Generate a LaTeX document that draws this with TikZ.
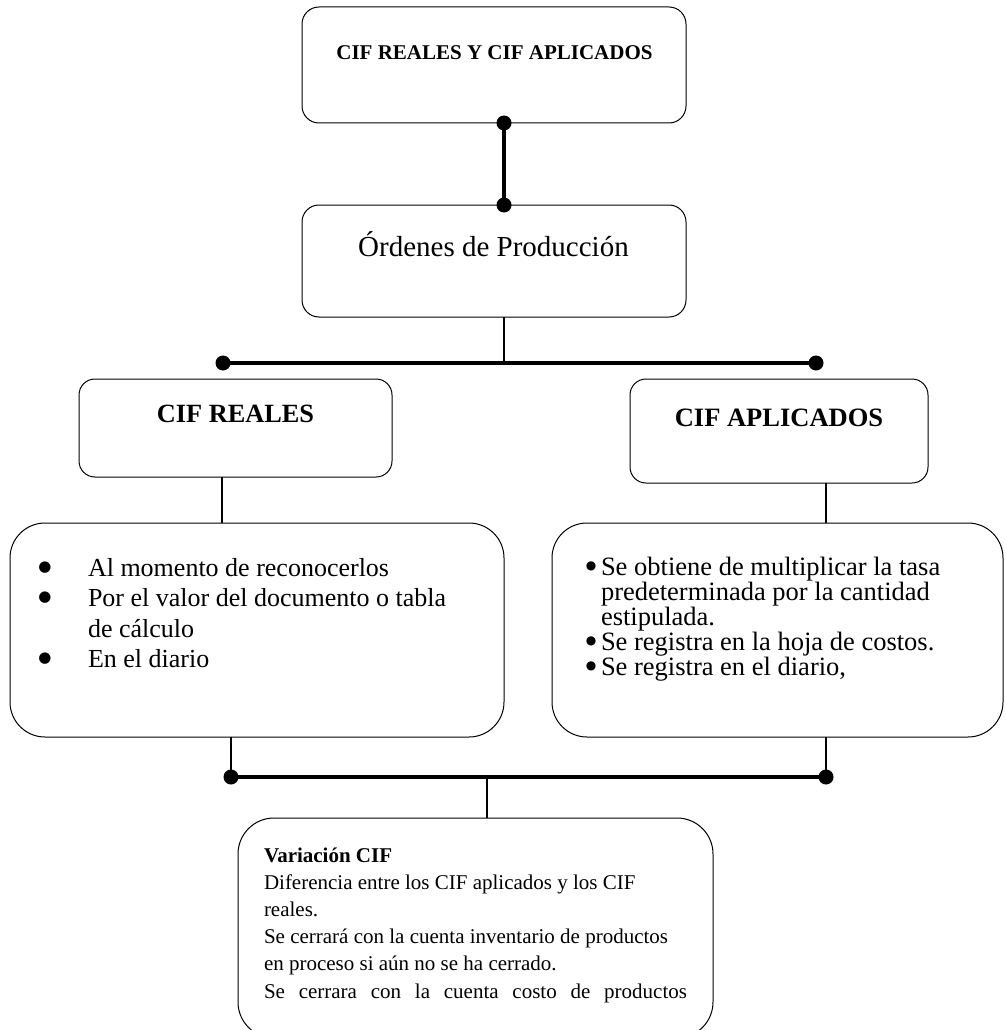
\documentclass[tikz,border=0pt]{standalone}
\usepackage{fontspec}
\setmainfont{Liberation Serif}
\newfontfamily\dejavu{DejaVu Sans}
\begin{document}
\begin{tikzpicture}[x=1pt,y=-1pt,
  box/.style={draw, line width=1pt, inner sep=0pt, outer sep=0pt},
  thickline/.style={line width=3.2pt},
  thinline/.style={line width=1.3pt},
  txt/.style={inner sep=0pt, outer sep=0pt},
  bulL/.style={txt, anchor=base, font=\dejavu\fontsize{15}{15}\selectfont},
  bulR/.style={txt, anchor=base, font=\dejavu\fontsize{12}{12}\selectfont}]
\fill[white] (0,0) rectangle (1005,1030);
\useasboundingbox (0,0) rectangle (1005,1030);

% boxes
\node[box, rounded corners=17pt, minimum width=384pt, minimum height=116pt] (top) at (494,65) {};
\node[box, rounded corners=17pt, minimum width=384pt, minimum height=112pt] (ord) at (494,261) {};
\node[box, rounded corners=16pt, minimum width=313pt, minimum height=98pt] (reales) at (235.5,428) {};
\node[box, rounded corners=16pt, minimum width=298pt, minimum height=104pt] (aplic) at (779,431) {};
\node[box, rounded corners=35pt, minimum width=494pt, minimum height=214pt] (leftlist) at (257,630) {};
\node[box, rounded corners=35pt, minimum width=451pt, minimum height=214pt] (rightlist) at (777.5,630) {};
\node[box, rounded corners=36pt, minimum width=475pt, minimum height=220pt] (bottom) at (475.5,928) {};

% connector coordinates
\coordinate (xa) at (504,0);
\coordinate (hl) at (223,363);
\coordinate (hr) at (816,363);
\coordinate (xr) at (222,0);
\coordinate (xp) at (826,0);
\coordinate (ll) at (231,777);
\coordinate (lr) at (826,777);
\coordinate (xm) at (487,0);

\draw[thickline] (top.south -| xa) -- (ord.north -| xa);
\draw[thinline] (ord.south -| xa) -- (xa |- hl);
\draw[thickline] (hl) -- (hr);
\draw[thinline] (reales.south -| xr) -- (leftlist.north -| xr);
\draw[thinline] (aplic.south -| xp) -- (rightlist.north -| xp);
\draw[thinline] (leftlist.south -| ll) -- (ll);
\draw[thinline] (rightlist.south -| lr) -- (lr);
\draw[thickline] (ll) -- (lr);
\draw[thinline] (xm |- ll) -- (bottom.north -| xm);

\fill (top.south -| xa) circle[radius=7.5pt];
\fill (ord.north -| xa) circle[radius=7.5pt];
\fill (hl) circle[radius=7.5pt];
\fill (hr) circle[radius=7.5pt];
\fill (ll) circle[radius=7.5pt];
\fill (lr) circle[radius=7.5pt];

% texts
\node[txt, anchor=base, font=\bfseries\fontsize{21}{25}\selectfont] (ttop) at (494.5,60) {CIF REALES Y CIF APLICADOS};
\node[txt, anchor=base, font=\fontsize{29}{33}\selectfont] (tord) at (493.5,256) {Órdenes de Producción};
\node[txt, anchor=base, font=\bfseries\fontsize{26.3}{30}\selectfont] (treales) at (235.5,422) {CIF REALES};
\node[txt, anchor=base, font=\bfseries\fontsize{26.5}{30}\selectfont] (taplic) at (779,426) {CIF APLICADOS};

% left list
\node[txt, anchor=base west, font=\fontsize{26}{30.5}\selectfont] (tleft) at (88,576)
  {\parbox[t]{400pt}{Al momento de reconocerlos\\Por el valor del documento o tabla\\de cálculo\\En el diario}};
\node[bulL] (bl1) at (45,571) {●};
\node[bulL] (bl2) at (45,601.5) {●};
\node[bulL] (bl3) at (45,662.5) {●};

% right list
\node[txt, anchor=base west, font=\fontsize{26.5}{25}\selectfont] (tright) at (601,575)
  {\parbox[t]{400pt}{Se obtiene de multiplicar la tasa\\predeterminada por la cantidad\\estipulada.\\Se registra en la hoja de costos.\\Se registra en el diario,}};
\node[bulR] (br1) at (591,569) {●};
\node[bulR] (br2) at (591,644) {●};
\node[bulR] (br3) at (591,669) {●};

% bottom text
\node[txt, anchor=base west, font=\fontsize{21}{27.2}\selectfont] (tbottom) at (264,862)
  {\parbox[t]{423pt}{\textbf{Variación CIF}\\Diferencia entre los CIF aplicados y los CIF\\reales.\\Se cerrará con la cuenta inventario de productos\\en proceso si aún no se ha cerrado.\\\makebox[423pt][s]{Se cerrara con la cuenta costo de productos}}};
\end{tikzpicture}
\end{document}
